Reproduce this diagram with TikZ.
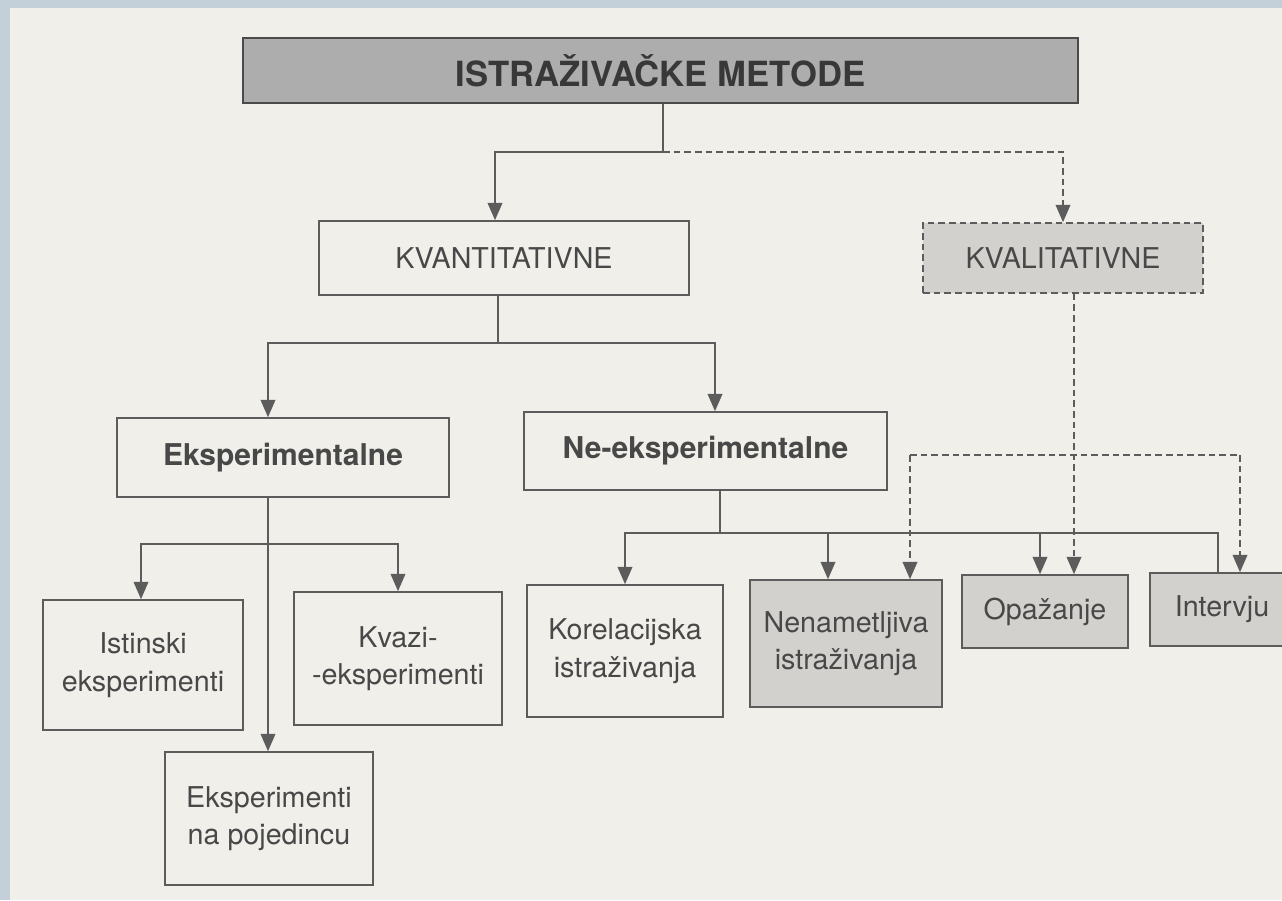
\documentclass[tikz,border=0pt]{standalone}
\usepackage{fontspec}
\setmainfont{TeX Gyre Heros}
\usetikzlibrary{arrows.meta,calc}
\definecolor{frame}{HTML}{C4D0D9}
\definecolor{paper}{HTML}{F0EFEA}
\definecolor{ink}{HTML}{484848}
\definecolor{wire}{HTML}{5C5C5C}
\definecolor{titlefill}{HTML}{ADADAD}
\definecolor{softfill}{HTML}{D2D1CD}
\tikzset{
  box/.style={draw=wire, line width=1.2pt, rectangle, inner sep=0pt, text=ink, align=center,
              font=\fontsize{21.5}{28}\selectfont},
  boldbox/.style={box, font=\fontsize{22.5}{28}\selectfont\bfseries},
  titlebox/.style={box, fill=titlefill, draw=wire!80!black, text=black!78,
              font=\fontsize{26}{30}\selectfont\bfseries},
  dashbox/.style={box, dash pattern=on 5pt off 3pt},
  wirestyle/.style={draw=wire, line width=1.2pt},
  arr/.style={wirestyle, -{Triangle[width=11pt,length=13pt]}},
  darr/.style={arr, dash pattern=on 5pt off 3pt},
  dline/.style={wirestyle, dash pattern=on 5pt off 3pt}
}
\begin{document}
\begin{tikzpicture}[x=0.75pt,y=-0.75pt]
\clip (0,0) rectangle (1282,900);
\fill[frame] (0,0) rectangle (1282,900);
\fill[paper] (10,8) rectangle (1282,900);

% nodes
\node[titlebox, minimum width=626.25pt, minimum height=48.75pt] (top) at (660.5,70.5) {ISTRAŽIVAČKE METODE};
\node[box, minimum width=277.5pt, minimum height=55.5pt] (kvant) at (504,258) {KVANTITATIVNE};
\node[dashbox, fill=softfill, minimum width=210pt, minimum height=52.5pt] (kval) at (1063,258) {KVALITATIVNE};
\node[boldbox, minimum width=249pt, minimum height=59.25pt] (eksp) at (283,457.5) {Eksperimentalne};
\node[boldbox, minimum width=272.25pt, minimum height=58.5pt] (neeksp) at (705.5,451) {Ne-eksperimentalne};
\node[box, minimum width=150pt, minimum height=97.5pt] (ist) at (143,665) {Istinski\\eksperimenti};
\node[box, minimum width=156pt, minimum height=99.75pt] (kvazi) at (398,658.5) {Kvazi-\\-eksperimenti};
\node[box, minimum width=156pt, minimum height=99.75pt] (poj) at (269,818.5) {Eksperimenti\\na pojedincu};
\node[box, minimum width=147pt, minimum height=99pt] (kor) at (625,651) {Korelacijska\\istraživanja};
\node[box, fill=softfill, minimum width=144pt, minimum height=95.25pt] (nen) at (846,643.5) {Nenametljiva\\istraživanja};
\node[box, fill=softfill, minimum width=124.5pt, minimum height=54.75pt] (opa) at (1045,611.5) {Opažanje};
\node[box, fill=softfill, minimum width=108pt, minimum height=54.75pt] (int) at (1222,609.5) {Intervju};

% junctions
\coordinate (j1) at (663,152);
\coordinate (j2) at (498,343);
\coordinate (j3) at (268,544);
\coordinate (j4) at (720,533);
\coordinate (j5) at (1074,455);

% top level
\draw[wirestyle] (663,0 |- top.south) -- (j1);
\draw[arr] (j1) -| (495,0 |- kvant.north);
\draw[darr] (j1) -| (kval.north);

% kvantitativne
\draw[wirestyle] (498,0 |- kvant.south) -- (j2);
\draw[arr] (j2) -| (268,0 |- eksp.north);
\draw[arr] (j2) -| (715,0 |- neeksp.north);

% eksperimentalne
\draw[wirestyle] (268,0 |- eksp.south) -- (j3);
\draw[arr] (j3) -| (141,0 |- ist.north);
\draw[arr] (j3) -| (kvazi.north);
\draw[arr] (j3) -- (268,0 |- poj.north);

% ne-eksperimentalne
\draw[wirestyle] (720,0 |- neeksp.south) -- (j4);
\draw[arr] (j4) -| (kor.north);
\draw[arr] (j4) -| (828,0 |- nen.north);
\draw[arr] (j4) -| (1040,0 |- opa.north);
\draw[wirestyle] (j4) -| (1218,0 |- int.north);

% kvalitativne
\draw[darr] (1074,0 |- kval.south) -- (1074,0 |- opa.north);
\draw[dline] (910,0 |- j5) -- (1240,0 |- j5);
\draw[darr] (910,0 |- j5) -- (910,0 |- nen.north);
\draw[darr] (1240,0 |- j5) -- (1240,0 |- int.north);
\end{tikzpicture}
\end{document}
